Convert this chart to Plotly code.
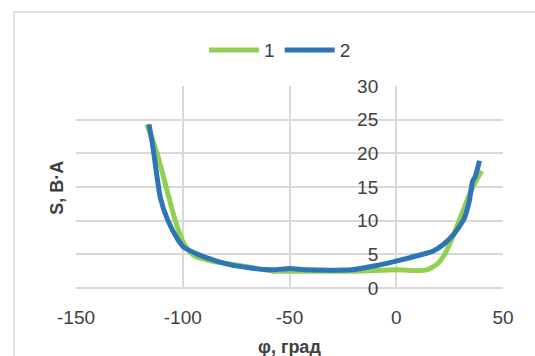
import plotly.graph_objects as go

# Series 1 (green): apparent power vs phase angle
phi_1 = [-116.8, -112, -107.3, -103.3, -99.3, -94.5, -86.5, -76, -67, -57.7, -41.8, -19,
         0, 9.4, 14.2, 19, 22.2, 25.4, 28.6, 31.8, 35, 38.2, 40.1]
s_1 = [24.3, 20.0, 14.4, 9.8, 6.5, 4.75, 4.0, 3.5, 3.0, 2.5, 2.5, 2.5,
       2.7, 2.6, 2.7, 3.5, 4.75, 6.8, 9.3, 11.9, 14.4, 16.4, 17.4]

# Series 2 (blue)
phi_2 = [-115.8, -114, -112, -110.5, -107.3, -102.5, -99.3, -92.9, -86.5, -78.5, -69, -57.7,
         -50, -41.8, -20.9, -9.8, -0.1, 9.4, 17.4, 22.2, 27, 31.8, 34.2, 35.8, 36.8, 38.2, 39]
s_2 = [24.3, 21.0, 16.4, 13.4, 10.3, 7.3, 6.0, 5.0, 4.25, 3.5, 3.0, 2.7,
       2.9, 2.7, 2.7, 3.3, 4.0, 4.75, 5.5, 6.5, 8.0, 10.3, 12.9, 15.9, 16.4, 17.9, 18.9]

x_ticks = [-150, -100, -50, 0, 50]
x_tick_text = ["-150", "-100", "-50", "0", "50"]
y_ticks = [0, 5, 10, 15, 20, 25, 30]

FONT = "Liberation Sans"
TXT = "#404040"
GRID = "#d9d9d9"

fig = go.Figure()
fig.add_trace(go.Scatter(x=phi_1, y=s_1, mode="lines", name="1",
                         line=dict(color="#92d050", width=5, shape="spline", smoothing=0.6)))
fig.add_trace(go.Scatter(x=phi_2, y=s_2, mode="lines", name="2",
                         line=dict(color="#2e75b6", width=5, shape="spline", smoothing=0.6)))

fig.update_layout(
    width=535, height=356,
    margin=dict(l=76, r=32, t=86, b=68),
    paper_bgcolor="white", plot_bgcolor="white",
    font=dict(family=FONT, size=19, color=TXT),
    showlegend=True,
    legend=dict(orientation="h", x=0.478, y=1.178, xanchor="center", yanchor="middle",
                font=dict(size=19, color=TXT), itemwidth=50, bgcolor="rgba(0,0,0,0)"),
    xaxis=dict(range=[-150, 50], tickvals=x_ticks, ticktext=x_tick_text,
               showgrid=True, gridcolor=GRID, gridwidth=1.5,
               zeroline=False, showline=False, ticks="", ticklabelstandoff=16,
               tickfont=dict(size=19, color=TXT)),
    yaxis=dict(range=[0, 30], tickvals=y_ticks, showgrid=True, gridcolor=GRID, gridwidth=1.5,
               zeroline=True, zerolinecolor=GRID, zerolinewidth=1.5, showline=False, ticks="",
               anchor="free", position=0.75, ticklabelstandoff=18,
               tickfont=dict(size=19, color=TXT)),
    shapes=[dict(type="rect", xref="paper", yref="paper",
                 x0=-0.145, x1=1.09, y0=-0.36, y1=1.366,
                 line=dict(color=GRID, width=1.5), layer="below")],
    annotations=[
        dict(text="<b>S, В·А</b>", xref="paper", yref="paper", x=-0.045, y=0.495,
             textangle=-90, showarrow=False, font=dict(size=18, color=TXT),
             xanchor="center", yanchor="middle"),
        dict(text="<b>φ, град</b>", xref="paper", yref="paper", x=0.5, y=-0.292,
             showarrow=False, font=dict(size=18, color=TXT),
             xanchor="center", yanchor="middle"),
    ],
)

fig.write_html("out.html")
